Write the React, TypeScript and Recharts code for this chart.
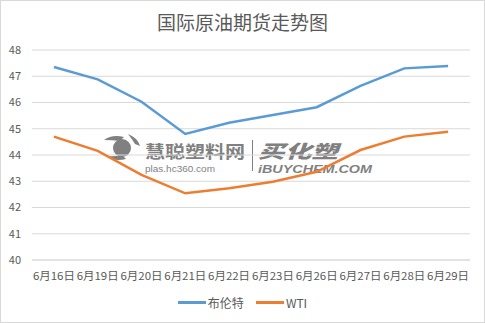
import React from 'react';
import { LineChart, Line, XAxis, YAxis, CartesianGrid } from 'recharts';

const categories = ['6月16日', '6月19日', '6月20日', '6月21日', '6月22日', '6月23日', '6月26日', '6月27日', '6月28日', '6月29日'];
const brent = [47.35, 46.88, 46.03, 44.8, 45.23, 45.52, 45.82, 46.63, 47.3, 47.39];
const wti = [44.7, 44.16, 43.24, 42.54, 42.73, 42.98, 43.36, 44.19, 44.7, 44.89];
const yTicks = [40, 41, 42, 43, 44, 45, 46, 47, 48];
const seriesNames = ['布伦特', 'WTI'];
const colors = ['#5B9BD5', '#ED7D31'];

const data = categories.map((c, i) => ({ name: c, brent: brent[i], wti: wti[i] }));

const FONT = '"Noto Sans CJK SC", "Microsoft YaHei", sans-serif';
const TXT = '#595959';

const XTick = (props: any) => {
  const { x, y, payload } = props;
  return (
    <text
      x={x}
      y={y + 20}
      textAnchor="middle"
      fontSize={11}
      fill={TXT}
      fontFamily={FONT}
      textLength={42}
      lengthAdjust="spacingAndGlyphs"
    >
      {payload.value}
    </text>
  );
};

const Watermark = () => (
  <svg width={485} height={323} style={{ position: 'absolute', left: 0, top: 0 }}>
    <g opacity={0.85} fill="#6b6b6b">
      <circle cx={122} cy={148} r={9} fill="#6b6b6b" />
      <path d="M104 140 Q112 134 124 137 L120 141 Q112 140 104 140 Z" />
      <path d="M106 156 Q114 162 126 159 L122 155 Q114 157 106 156 Z" />
      <path d="M128 134 Q138 138 140 146 L135 144 Q132 139 128 134 Z" />
      <text x={145} y={158} fontSize={17} fontFamily={FONT} fontWeight={700} textLength={100} lengthAdjust="spacingAndGlyphs">慧聪塑料网</text>
      <text x={145} y={172} fontSize={9} fontFamily='"Liberation Sans", Arial, sans-serif' textLength={70} lengthAdjust="spacingAndGlyphs">plas.hc360.com</text>
      <rect x={252} y={140} width={1} height={31} />
      <text x={258} y={158} fontSize={18} fontFamily={FONT} fontWeight={900} fontStyle="italic" textLength={80} lengthAdjust="spacingAndGlyphs">买化塑</text>
      <text x={258} y={173} fontSize={10} fontFamily='"Liberation Sans", Arial, sans-serif' fontWeight={700} fontStyle="italic" textLength={114} lengthAdjust="spacingAndGlyphs">iBUYCHEM.COM</text>
    </g>
  </svg>
);

export default function App() {
  return (
    <div style={{ position: 'absolute', left: 0, top: 0, width: 485, height: 323, background: '#fff', fontFamily: FONT }}>
      <Watermark />
      <div
        style={{
          position: 'absolute',
          left: 0,
          top: 12,
          width: 485,
          textAlign: 'center',
          fontSize: 19,
          lineHeight: '20px',
          color: TXT,
          fontFamily: FONT,
        }}
      >
        国际原油期货走势图
      </div>
      <div style={{ position: 'absolute', left: 0, top: 0 }}>
        <LineChart width={485} height={323} data={data} margin={{ top: 50, right: 15, bottom: 33, left: 0 }}>
          <CartesianGrid vertical={false} stroke="#d9d9d9" strokeWidth={1} />
          <XAxis
            dataKey="name"
            scale="band"
            axisLine={{ stroke: '#d9d9d9' }}
            tickLine={false}
            tickSize={0}
            tickMargin={0}
            height={30}
            interval={0}
            tick={<XTick />}
          />
          <YAxis
            domain={[40, 48]}
            ticks={yTicks}
            axisLine={false}
            tickLine={false}
            tickSize={0}
            tickMargin={11}
            width={32}
            tick={{ fontSize: 11, fill: TXT, fontFamily: FONT }}
          />
          <Line type="linear" dataKey="brent" name={seriesNames[0]} stroke={colors[0]} strokeWidth={2.5} dot={false} isAnimationActive={false} />
          <Line type="linear" dataKey="wti" name={seriesNames[1]} stroke={colors[1]} strokeWidth={2.5} dot={false} isAnimationActive={false} />
        </LineChart>
      </div>
      <div
        style={{
          position: 'absolute',
          left: 0,
          top: 292,
          width: 485,
          height: 20,
          display: 'flex',
          justifyContent: 'center',
          alignItems: 'center',
          fontSize: 12,
          color: TXT,
          fontFamily: FONT,
        }}
      >
        {seriesNames.map((n, i) => (
          <div key={n} style={{ display: 'flex', alignItems: 'center', marginLeft: i === 0 ? 0 : 12 }}>
            <div style={{ width: 28, height: 3, background: colors[i], marginRight: 2 }} />
            <span>{n}</span>
          </div>
        ))}
      </div>
      <div
        style={{
          position: 'absolute',
          left: 0,
          top: 0,
          width: 485,
          height: 323,
          boxSizing: 'border-box',
          border: '1px solid #d9d9d9',
          pointerEvents: 'none',
        }}
      />
    </div>
  );
}
